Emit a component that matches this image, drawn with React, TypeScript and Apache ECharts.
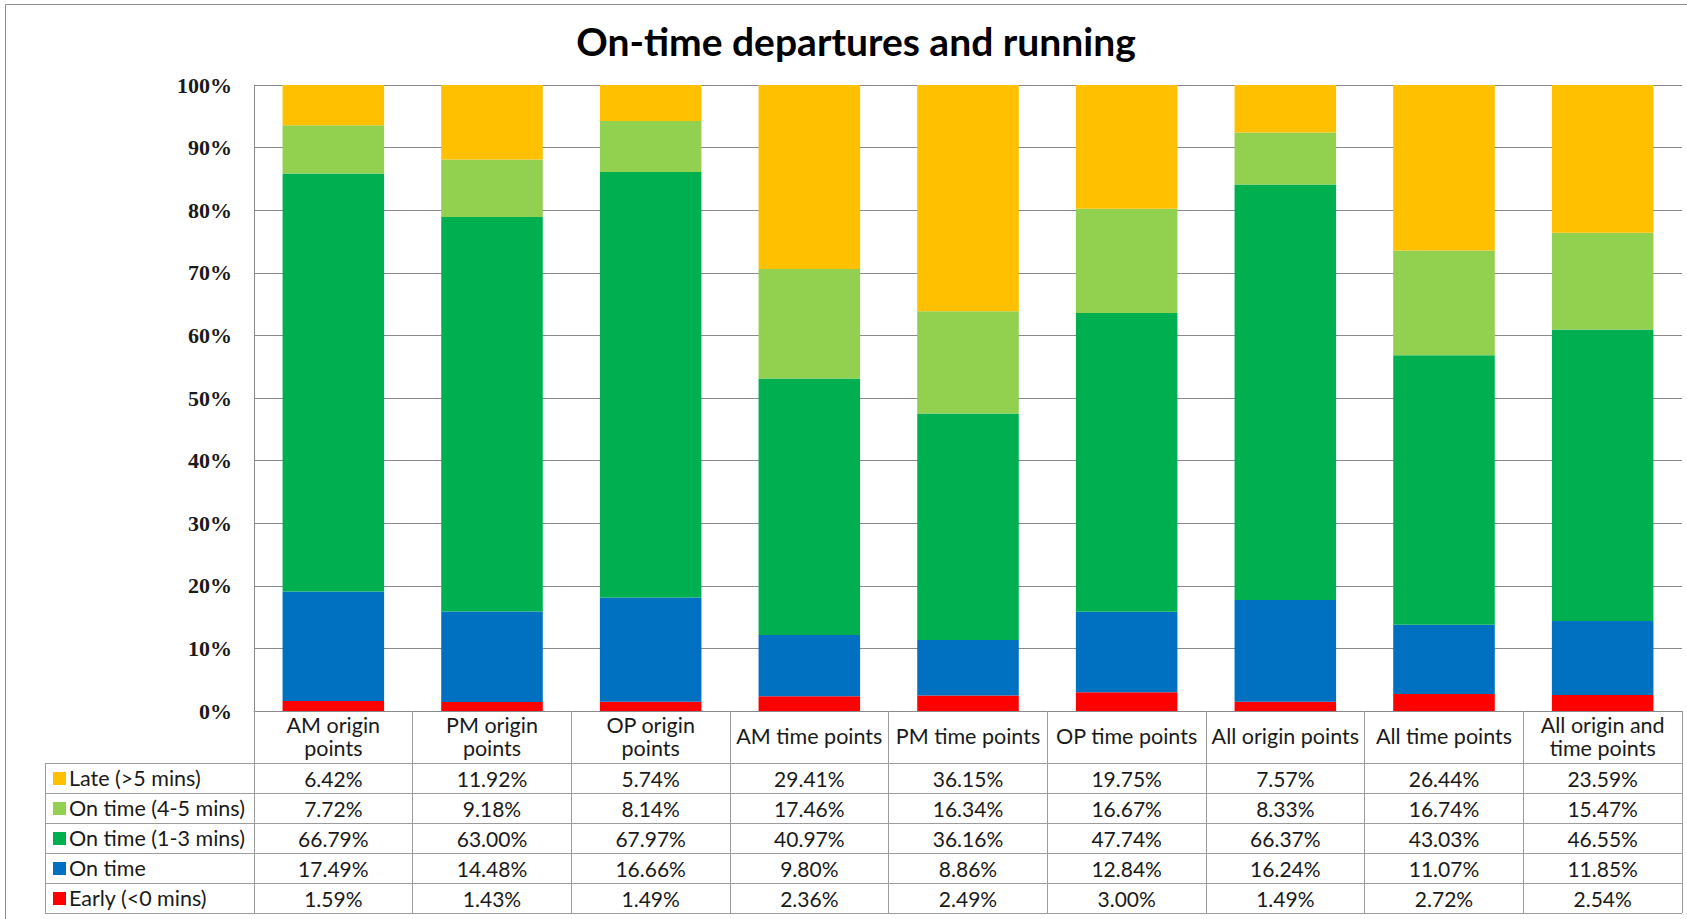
import React, { useEffect, useRef } from 'react';
import * as echarts from 'echarts';

const categories = [
  'AM origin\npoints',
  'PM origin\npoints',
  'OP origin\npoints',
  'AM time points',
  'PM time points',
  'OP time points',
  'All origin points',
  'All time points',
  'All origin and\ntime points',
];

const lateValues = [6.42, 11.92, 5.74, 29.41, 36.15, 19.75, 7.57, 26.44, 23.59];
const onTime45Values = [7.72, 9.18, 8.14, 17.46, 16.34, 16.67, 8.33, 16.74, 15.47];
const onTime13Values = [66.79, 63.0, 67.97, 40.97, 36.16, 47.74, 66.37, 43.03, 46.55];
const onTimeValues = [17.49, 14.48, 16.66, 9.8, 8.86, 12.84, 16.24, 11.07, 11.85];
const earlyValues = [1.59, 1.43, 1.49, 2.36, 2.49, 3.0, 1.49, 2.72, 2.54];

const seriesNames = ['Early (<0 mins)', 'On time', 'On time (1-3 mins)', 'On time (4-5 mins)', 'Late (>5 mins)'];
const seriesColors = ['#FF0000', '#0070C0', '#00B050', '#92D050', '#FFC000'];
const seriesData = [earlyValues, onTimeValues, onTime13Values, onTime45Values, lateValues];

const TITLE = 'On-time departures and running';

export default function App() {
  const ref = useRef<HTMLDivElement>(null);
  useEffect(() => {
    const chart = echarts.init(ref.current!, null, { renderer: 'svg' });
    const gridLeft = 254;
    const gridTop = 85;
    const gridRight = 1682;
    const gridBottom = 711;
    const tableTop = 763;
    const rowH = 30;
    const tableLeft = 45;
    const tableBottom = tableTop + rowH * 5;
    const gridColor = '#8a8a8a';
    const tableColor = '#9c9c9c';
    const font = 'Lato';
    const textSize = 21;

    chart.setOption({
      animation: false,
      title: {
        text: TITLE,
        left: 851,
        top: 16,
        textAlign: 'center',
        textStyle: { fontFamily: font, fontWeight: 'bold', fontSize: 39, color: '#000' },
      },
      grid: {
        left: gridLeft,
        top: gridTop,
        width: gridRight - gridLeft,
        height: gridBottom - gridTop,
        containLabel: false,
      },
      xAxis: {
        type: 'category',
        data: categories,
        axisLine: { show: true, lineStyle: { color: gridColor, width: 1 } },
        axisTick: { show: true, length: tableBottom - gridBottom, lineStyle: { color: tableColor, width: 1 } },
        axisLabel: {
          interval: 0,
          margin: 25,
          verticalAlign: 'middle',
          lineHeight: 23,
          fontFamily: font,
          fontSize: 21.5,
          color: '#1a1a1a',
        },
      },
      yAxis: {
        type: 'value',
        min: 0,
        max: 100,
        interval: 10,
        axisLine: { show: true, lineStyle: { color: gridColor, width: 1 } },
        axisTick: { show: false },
        splitLine: { show: true, lineStyle: { color: gridColor, width: 1 } },
        axisLabel: {
          formatter: (v: number) => `${v}%`,
          margin: 22,
          fontFamily: 'Liberation Serif',
          fontWeight: 'bold',
          fontSize: 22,
          color: '#1a1a1a',
        },
      },
      series: seriesNames.map((name, i) => ({
        name,
        type: 'bar',
        stack: 'total',
        barWidth: '64%',
        data: seriesData[i],
        itemStyle: { color: seriesColors[i] },
      })),
    });

    const graphics: any[] = [];
    graphics.push({
      type: 'rect',
      shape: { x: 5.5, y: 4.5, width: 1720, height: 1000 },
      style: { fill: 'none', stroke: '#8c8c8c', lineWidth: 1 },
      silent: true,
    });
    for (let r = 0; r <= 5; r++) {
      const y = tableTop + r * rowH + 0.5;
      graphics.push({
        type: 'line',
        shape: { x1: tableLeft, y1: y, x2: gridRight, y2: y },
        style: { stroke: tableColor, lineWidth: 1 },
        silent: true,
      });
    }
    graphics.push({
      type: 'line',
      shape: { x1: tableLeft + 0.5, y1: tableTop, x2: tableLeft + 0.5, y2: tableBottom + 1 },
      style: { stroke: tableColor, lineWidth: 1 },
      silent: true,
    });
    const order = [4, 3, 2, 1, 0];
    order.forEach((si, r) => {
      const yc = tableTop + rowH * (r + 0.5);
      graphics.push({
        type: 'rect',
        shape: { x: 53, y: yc - 6, width: 13, height: 13 },
        style: { fill: seriesColors[si] },
        silent: true,
      });
      graphics.push({
        type: 'text',
        x: 69,
        y: yc,
        style: {
          text: seriesNames[si],
          fontFamily: font,
          fontSize: textSize + 0.5,
          fill: '#1a1a1a',
          align: 'left',
          verticalAlign: 'middle',
          textAlign: 'left',
          textVerticalAlign: 'middle',
        },
        silent: true,
      });
      seriesData[si].forEach((v, j) => {
        const px = chart.convertToPixel({ xAxisIndex: 0 }, j) as number;
        graphics.push({
          type: 'text',
          x: px,
          y: yc,
          style: {
            text: `${v.toFixed(2)}%`,
            fontFamily: font,
            fontSize: textSize,
            fill: '#1a1a1a',
            align: 'center',
            verticalAlign: 'middle',
            textAlign: 'center',
            textVerticalAlign: 'middle',
          },
          silent: true,
        });
      });
    });
    chart.setOption({ graphic: graphics });

    return () => chart.dispose();
  }, []);
  return (
    <div
      ref={ref}
      style={{ position: 'absolute', left: 0, top: 0, width: 1687, height: 919, background: '#fff' }}
    />
  );
}
